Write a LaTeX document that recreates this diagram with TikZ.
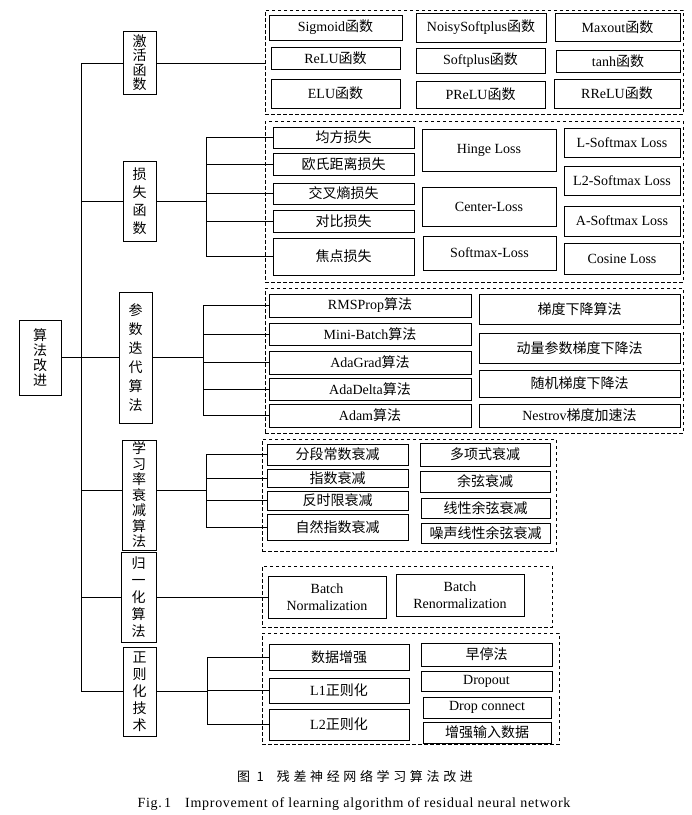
\documentclass[tikz,border=0pt]{standalone}
\usepackage{fontspec}
\setmainfont{Liberation Serif}
\newfontfamily\zhfont{Noto Sans CJK SC}
\newfontfamily\zhcap[LetterSpace=28]{Noto Sans CJK SC}
\newfontfamily\encap[LetterSpace=5]{Liberation Serif}
\newcommand\zh[1]{{\zhfont #1}}
\newcommand\bx[6]{\node[bx, minimum width={#4-#2}, minimum height={#5-#3}] (#1) at ({(#2+#4)/2},{(#3+#5)/2}) {#6};}
\newcommand\gp[5]{\node[grp, minimum width={#4-#2}, minimum height={#5-#3}] (#1) at ({(#2+#4)/2},{(#3+#5)/2}) {};}
\newcommand\cat[7]{\node[bx, font=\zhfont\fontsize{14}{#6}\selectfont, minimum width={#4-#2}, minimum height={#5-#3}] (#1) at ({(#2+#4)/2},{(#3+#5)/2}) {#7};}
\tikzset{
  bx/.style={draw, line width=1pt, inner sep=0pt, align=center, font=\fontsize{14}{17}\selectfont},
  grp/.style={draw, dash pattern=on 3.5pt off 2.5pt, line width=0.8pt, inner sep=0pt},
  ln/.style={line width=0.9pt},
}
\begin{document}
\begin{tikzpicture}[x=1pt,y=-1pt]
\useasboundingbox[fill=white] (0,0) rectangle (692,815);
% groups
\gp{gA}{265}{10}{683}{114}
\gp{gB}{265}{121}{683}{282}
\gp{gC}{265}{288}{683}{433}
\gp{gD}{262}{439}{556}{551}
\gp{gE}{262}{566}{552}{627}
\gp{gF}{262}{633}{559}{744}
% activation
\bx{s1}{269}{15}{402}{40}{Sigmoid\zh{函数}}
\bx{s2}{416}{13}{546}{42}{NoisySoftplus\zh{函数}}
\bx{s3}{555}{13}{680}{41}{Maxout\zh{函数}}
\bx{s4}{271}{47}{400}{69}{ReLU\zh{函数}}
\bx{s5}{416}{48}{545}{73}{Softplus\zh{函数}}
\bx{s6}{556}{50}{680}{72}{tanh\zh{函数}}
\bx{s7}{271}{79}{400}{108}{ELU\zh{函数}}
\bx{s8}{416}{81}{545}{108}{PReLU\zh{函数}}
\bx{s9}{554}{79}{680}{108}{RReLU\zh{函数}}
% loss
\bx{l1}{273}{127}{414}{148}{\zh{均方损失}}
\bx{l2}{273}{153}{414}{175}{\zh{欧氏距离损失}}
\bx{l3}{273}{183}{414}{204}{\zh{交叉熵损失}}
\bx{l4}{273}{210}{414}{232}{\zh{对比损失}}
\bx{l5}{273}{238}{414}{275}{\zh{焦点损失}}
\bx{l6}{422}{129}{556}{171}{Hinge Loss}
\bx{l7}{422}{187}{556}{226}{Center-Loss}
\bx{l8}{423}{236}{556}{270}{Softmax-Loss}
\bx{l9}{564}{128}{680}{157}{L-Softmax Loss}
\bx{l10}{564}{166}{680}{195}{L2-Softmax Loss}
\bx{l11}{564}{206}{680}{236}{A-Softmax Loss}
\bx{l12}{564}{243}{680}{274}{Cosine Loss}
% parameter iteration
\bx{p1}{269}{294}{471}{317}{RMSProp\zh{算法}}
\bx{p2}{269}{323}{471}{345}{Mini-Batch\zh{算法}}
\bx{p3}{269}{351}{471}{374}{AdaGrad\zh{算法}}
\bx{p4}{269}{378}{471}{400}{AdaDelta\zh{算法}}
\bx{p5}{269}{404}{471}{427}{Adam\zh{算法}}
\bx{p6}{479}{294}{680}{324}{\zh{梯度下降算法}}
\bx{p7}{479}{333}{680}{363}{\zh{动量参数梯度下降法}}
\bx{p8}{479}{370}{680}{397}{\zh{随机梯度下降法}}
\bx{p9}{479}{404}{680}{427}{Nestrov\zh{梯度加速法}}
% learning-rate decay
\bx{r1}{267}{444}{408}{465}{\zh{分段常数衰减}}
\bx{r2}{267}{469}{408}{487}{\zh{指数衰减}}
\bx{r3}{267}{491}{408}{510}{\zh{反时限衰减}}
\bx{r4}{267}{514}{408}{540}{\zh{自然指数衰减}}
\bx{r5}{420}{443}{550}{466}{\zh{多项式衰减}}
\bx{r6}{420}{471}{550}{492}{\zh{余弦衰减}}
\bx{r7}{421}{498}{550}{518}{\zh{线性余弦衰减}}
\bx{r8}{421}{523}{550}{543}{\zh{噪声线性余弦衰减}}
% normalization
\bx{n1}{268}{576}{386}{618}{Batch\\Normalization}
\bx{n2}{396}{574}{524}{616}{Batch\\Renormalization}
% regularization
\bx{g1}{269}{644}{409}{670}{\zh{数据增强}}
\bx{g2}{269}{678}{409}{703}{L1\zh{正则化}}
\bx{g3}{269}{709}{409}{740}{L2\zh{正则化}}
\bx{g4}{421}{643}{552}{666}{\zh{早停法}}
\bx{g5}{421}{671}{552}{691}{Dropout}
\bx{g6}{423}{697}{551}{718}{Drop connect}
\bx{g7}{423}{722}{551}{743}{\zh{增强输入数据}}
% categories
\cat{root}{19}{320}{61}{395}{15}{算\\法\\改\\进}
\cat{cA}{123}{31}{156}{94}{14.5}{激\\活\\函\\数}
\cat{cB}{123}{161}{156}{241}{18}{损\\失\\函\\数}
\cat{cC}{119}{292}{152}{423}{19}{参\\数\\迭\\代\\算\\法}
\cat{cD}{122}{440}{156}{550}{15.5}{学\\习\\率\\衰\\减\\算\\法}
\cat{cE}{121}{552}{156}{642}{17}{归\\一\\化\\算\\法}
\cat{cF}{123}{647}{156}{736}{17}{正\\则\\化\\技\\术}
% trunk
\coordinate (tA) at (81,63);
\coordinate (tB) at (81,201);
\coordinate (tC) at (root.east -| tA);
\coordinate (tD) at (81,490);
\coordinate (tE) at (81,597);
\coordinate (tF) at (81,691);
\draw[ln] (tA) -- (tF);
\draw[ln] (root.east) -- (tC);
\foreach \t/\c in {tA/cA,tB/cB,tC/cC,tD/cD,tE/cE,tF/cF}
  \draw[ln] (\t) -- (\t -| \c.west);
% branches
\draw[ln] (cA.east |- tA) -- (tA -| gA.west);
\coordinate (bB) at (206,201);
\draw[ln] (cB.east |- tB) -- (bB);
\draw[ln] (bB |- l1.west) -- (bB |- l5.west);
\foreach \n in {l1,l2,l3,l4,l5} \draw[ln] (bB |- \n.west) -- (\n.west);
\coordinate (bC) at (203,357);
\draw[ln] (cC.east |- tC) -- (bC |- tC);
\draw[ln] (bC |- p1.west) -- (bC |- p5.west);
\foreach \n in {p1,p2,p3,p4,p5} \draw[ln] (bC |- \n.west) -- (\n.west);
\coordinate (bD) at (206,490);
\draw[ln] (cD.east |- tD) -- (bD);
\draw[ln] (bD |- r1.west) -- (bD |- r4.west);
\foreach \n in {r1,r2,r3,r4} \draw[ln] (bD |- \n.west) -- (\n.west);
\draw[ln] (cE.east |- tE) -- (tE -| n1.west);
\coordinate (bF) at (207,691);
\draw[ln] (cF.east |- tF) -- (bF);
\draw[ln] (bF |- g1.west) -- (bF |- g3.west);
\foreach \n in {g1,g2,g3} \draw[ln] (bF |- \n.west) -- (\n.west);
% captions
\node[font=\zhcap\fontsize{13}{15}\selectfont] (cap1) at (355,776) {图 1\quad 残差神经网络学习算法改进};
\node[font=\encap\fontsize{14}{16}\selectfont] (cap2) at (354,804) {Fig.\,1\quad Improvement of learning algorithm of residual neural network};
\end{tikzpicture}
\end{document}
